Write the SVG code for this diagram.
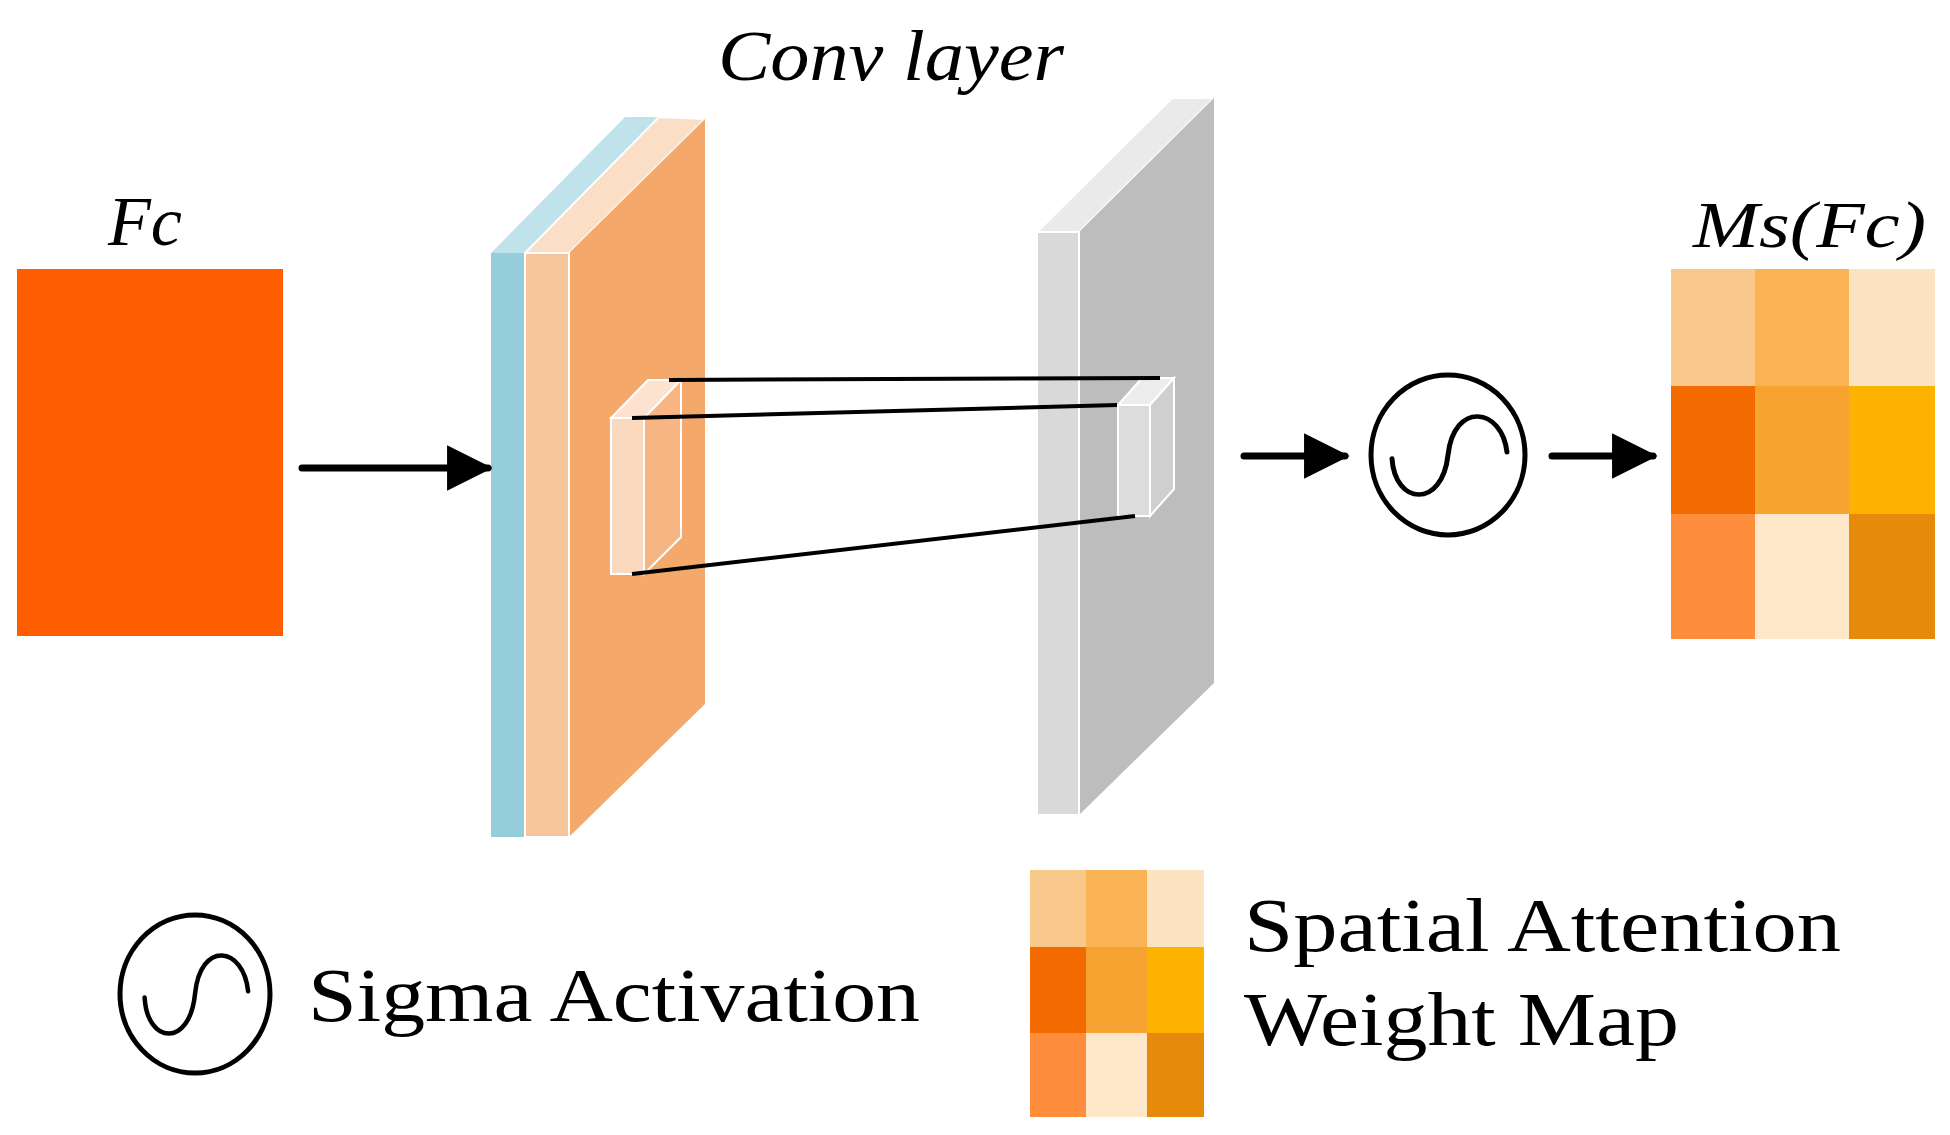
<svg xmlns="http://www.w3.org/2000/svg" width="1950" height="1135" viewBox="0 0 1950 1135">
<defs>
<style>
.lbl{font-family:"Liberation Serif","DejaVu Serif",serif;fill:#000}
.it{font-style:italic}
.ln{stroke:#000;stroke-width:7;fill:none;stroke-linecap:round}
.cn{stroke:#000;stroke-width:4;fill:none}
.edge{stroke:#fff;stroke-width:2}
</style>
<marker id="ah" viewBox="0 0 10 10" refX="9" refY="5" markerWidth="6.5" markerHeight="7" markerUnits="strokeWidth" orient="auto"><path d="M0,0L10,5L0,10z" fill="#000"/></marker>
<g id="sig"><path d="M-56,4 C-53,56 -6,60 0,0 C6,-60 54,-53 59,-3" fill="none" stroke="#000" stroke-width="5" stroke-linecap="round"/></g>
</defs>
<rect width="1950" height="1135" fill="#fff"/>

<g id="fc">
<rect x="17" y="269" width="266" height="367" fill="#FF5E00"/>
<text class="lbl it" x="108" y="245" font-size="70" textLength="74" lengthAdjust="spacingAndGlyphs">Fc</text>
</g>

<g id="conv">
<text class="lbl it" x="718" y="80" font-size="72" textLength="346" lengthAdjust="spacingAndGlyphs">Conv layer</text>
<polygon points="491,253 625,117 659,117 525,253" fill="#C0E2EA"/>
<polygon points="525,253 659,117 705,119 569,253" fill="#FBDEC6" class="edge"/>
<polygon points="569,253 705,119 705,704 569,837" fill="#F4A96A"/>
<rect x="491" y="253" width="34" height="584" fill="#96CDDA"/>
<rect x="525" y="253" width="44" height="584" fill="#F7C59B" class="edge"/>
<polygon points="611,418 648,380 681,380 644,418" fill="#FDE3CF" class="edge"/>
<polygon points="644,418 681,380 681,537 644,574" fill="#F7B584" class="edge"/>
<rect x="611" y="418" width="33" height="156" fill="#FBD9BE" class="edge"/>
</g>

<g id="gray">
<polygon points="1037,232 1172,98 1214,98 1079,232" fill="#EAEAEA" class="edge"/>
<polygon points="1079,232 1214,98 1214,683 1079,815" fill="#BDBDBD"/>
<rect x="1037" y="232" width="42" height="583" fill="#D9D9D9" class="edge"/>
<polygon points="1118,405 1142,378 1174,378 1150,405" fill="#EDEDED" class="edge"/>
<polygon points="1150,405 1174,378 1174,489 1150,516" fill="#CFCFCF" class="edge"/>
<rect x="1118" y="405" width="32" height="111" fill="#DCDCDC" class="edge"/>
</g>

<g id="sigma">
<ellipse cx="1448" cy="455" rx="77" ry="80" fill="none" stroke="#000" stroke-width="5"/>
<use href="#sig" transform="translate(1448,455) scale(1,0.9)"/>
</g>

<g id="ms">
<text class="lbl it" x="1693" y="247" font-size="66" textLength="233" lengthAdjust="spacingAndGlyphs">Ms(Fc)</text>
<rect x="1671" y="269" width="84" height="117" fill="#F9C98C"/>
<rect x="1755" y="269" width="94" height="117" fill="#F9B254"/>
<rect x="1849" y="269" width="86" height="117" fill="#FCE3C2"/>
<rect x="1671" y="386" width="84" height="128" fill="#F26A00"/>
<rect x="1755" y="386" width="94" height="128" fill="#F6A332"/>
<rect x="1849" y="386" width="86" height="128" fill="#FDB200"/>
<rect x="1671" y="514" width="84" height="125" fill="#FE8D3C"/>
<rect x="1755" y="514" width="94" height="125" fill="#FFE8CA"/>
<rect x="1849" y="514" width="86" height="125" fill="#E58A0B"/>
</g>

<g id="legend-sigma">
<ellipse cx="195" cy="994" rx="75" ry="79" fill="none" stroke="#000" stroke-width="5"/>
<use href="#sig" transform="translate(195,994) scale(0.9)"/>
<text class="lbl" x="308" y="1021" font-size="76" textLength="612" lengthAdjust="spacingAndGlyphs">Sigma Activation</text>
</g>

<g id="legend-map">
<rect x="1030" y="870" width="56" height="77" fill="#F9C98C"/>
<rect x="1086" y="870" width="61" height="77" fill="#F9B254"/>
<rect x="1147" y="870" width="57" height="77" fill="#FCE3C2"/>
<rect x="1030" y="947" width="56" height="86" fill="#F26A00"/>
<rect x="1086" y="947" width="61" height="86" fill="#F6A332"/>
<rect x="1147" y="947" width="57" height="86" fill="#FDB200"/>
<rect x="1030" y="1033" width="56" height="84" fill="#FE8D3C"/>
<rect x="1086" y="1033" width="61" height="84" fill="#FFE8CA"/>
<rect x="1147" y="1033" width="57" height="84" fill="#E58A0B"/>
<text class="lbl" x="1244" y="951" font-size="76" textLength="597" lengthAdjust="spacingAndGlyphs">Spatial Attention</text>
<text class="lbl" x="1244" y="1045" font-size="76" textLength="435" lengthAdjust="spacingAndGlyphs">Weight Map</text>
</g>

<g id="connectors">
<line class="ln" x1="302" y1="468" x2="488" y2="468" marker-end="url(#ah)"/>
<line class="ln" x1="1244" y1="456" x2="1345" y2="456" marker-end="url(#ah)"/>
<line class="ln" x1="1552" y1="456" x2="1653" y2="456" marker-end="url(#ah)"/>
<line class="cn" x1="669" y1="380" x2="1160" y2="378"/>
<line class="cn" x1="632" y1="418" x2="1117" y2="405"/>
<line class="cn" x1="632" y1="574" x2="1135" y2="516"/>
</g>
</svg>
